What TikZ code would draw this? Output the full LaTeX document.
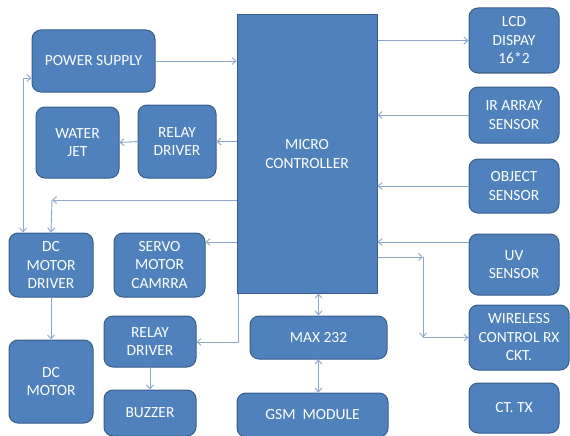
\documentclass[tikz,border=0pt]{standalone}
\usepackage{fontspec}
\setmainfont{Carlito}
\usepackage{tikz}
\usetikzlibrary{positioning,calc,arrows.meta}
\definecolor{blkfill}{RGB}{79,129,189}
\definecolor{blkline}{RGB}{56,93,138}
\definecolor{wire}{RGB}{140,166,201}

\begin{document}
\begin{tikzpicture}[x=1pt, y=-1pt,
        every node/.style={font=\fontsize{15.5}{18.5}\selectfont},
        blk/.style={draw=blkline, line width=1pt, fill=blkfill, text=white, rounded corners=9pt, align=center, inner sep=1pt},
        link/.style={draw=wire, line width=0.9pt, >={Straight Barb[length=4pt, width=7pt]}}]
        \useasboundingbox (0,0) rectangle (570,436);
        \node[blk, minimum width=123pt, minimum height=62pt] (ps) at (93.5,61) {POWER SUPPLY};
        \node[blk, rounded corners=0pt, minimum width=140pt, minimum height=278pt] (mc) at (307,154) {MICRO\\CONTROLLER};
        \node[blk, minimum width=83pt, minimum height=71pt] (wj) at (77.5,142.5) {WATER\\JET};
        \node[blk, minimum width=78pt, minimum height=73pt] (rd1) at (177,141.5) {RELAY\\DRIVER};
        \node[blk, minimum width=90pt, minimum height=65pt] (lcd) at (514,40.5) {LCD\\DISPAY\\16*2};
        \node[blk, minimum width=90pt, minimum height=56pt] (ir) at (514,115) {IR ARRAY\\SENSOR};
        \node[blk, minimum width=90pt, minimum height=54pt] (obj) at (514,186) {OBJECT\\SENSOR};
        \node[blk, minimum width=90pt, minimum height=61pt] (uv) at (514,264.5) {UV\\SENSOR};
        \node[blk, minimum width=100pt, minimum height=65pt] (wl) at (519,337.5) {WIRELESS\\CONTROL RX\\CKT.};
        \node[blk, minimum width=90pt, minimum height=50pt] (ct) at (514,408) {CT. TX};
        \node[blk, minimum width=137pt, minimum height=43pt] (max) at (318.5,337.5) {MAX 232};
        \node[blk, minimum width=151pt, minimum height=44pt] (gsm) at (312.5,415) {GSM\ \ MODULE};
        \node[blk, minimum width=84pt, minimum height=64pt] (drv) at (51,265) {DC\\MOTOR\\DRIVER};
        \node[blk, minimum width=91pt, minimum height=64pt] (srv) at (159.5,265) {SERVO\\MOTOR\\CAMRRA};
        \node[blk, minimum width=84pt, minimum height=83pt] (dcm) at (51,381.5) {DC\\MOTOR};
        \node[blk, minimum width=92pt, minimum height=51pt] (rd2) at (150,341.5) {RELAY\\DRIVER};
        \node[blk, minimum width=92pt, minimum height=46pt] (bz) at (150,413) {BUZZER};
        \coordinate (c1) at (52,200);
        \coordinate (c2) at (23,78);
        \coordinate (c3) at (238,342);
        \coordinate (c4) at (423,257);
        % left side
        \draw[link, ->] (ps.east) -- (ps.east -| mc.west);
        \draw[link, ->] (mc.west |- rd1.east) -- (rd1.east);
        \draw[link, ->] (rd1.west) -- (wj.east);
        \draw[link, ->] (mc.west |- c1) -- (c1);
        \draw[link, ->] (c1) -- (drv.north);
        \draw[link, <->] (ps.west |- c2) -- (c2) -- (c2 |- drv.north);
        \draw[link, ->] (mc.west |- 0,242) -- (srv.east |- 0,242);
        \draw[link, ->] (c3 |- mc.south) -- (c3) -- (rd2.east |- c3);
        \draw[link, ->] (drv.south) -- (dcm.north);
        \draw[link, ->] (rd2.south) -- (bz.north);
        % bottom
        \draw[link, <->] (max.north |- mc.south) -- (max.north);
        \draw[link, <->] (max.south) -- (max.south |- gsm.north);
        % right side
        \draw[link, ->] (mc.east |- lcd.west) -- (lcd.west);
        \draw[link, ->] (ir.west) -- (ir.west -| mc.east);
        \draw[link, ->] (obj.west) -- (obj.west -| mc.east);
        \draw[link, ->] (uv.west |- 0,242) -- (mc.east |- 0,242);
        \draw[link, ->] (mc.east |- c4) -- (c4);
        \draw[link, ->] (c4) -- (c4 |- wl.west);
        \draw[link, ->] (c4 |- wl.west) -- (wl.west);
    \end{tikzpicture}
\end{document}
